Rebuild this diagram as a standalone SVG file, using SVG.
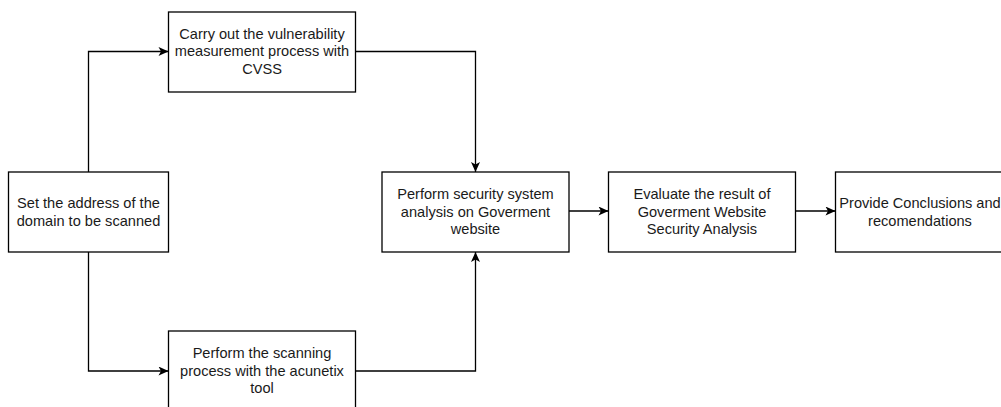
<svg xmlns="http://www.w3.org/2000/svg" width="1001" height="407" viewBox="0 0 1001 407">
<style>
.box{fill:#fff;stroke:#000;stroke-width:1.3}
.lbl{font-family:"Liberation Sans",Arial,sans-serif;font-size:14.6px;fill:#1a1a1a;text-anchor:middle}
.edge{fill:none;stroke:#000;stroke-width:1.3}
</style>
<defs>
<marker id="arr" viewBox="0 0 10 9" refX="10" refY="4.5" markerWidth="11" markerHeight="9" markerUnits="userSpaceOnUse" orient="auto">
<path d="M0,0 L10,4.5 L0,9 L2.5,4.5 Z" fill="#000"/>
</marker>
</defs>
<rect width="1001" height="407" fill="#fff"/>
<g id="connectors">
<path class="edge" d="M88.5,172 V51.5 H168.5" marker-end="url(#arr)"/>
<path class="edge" d="M88.5,252 V371 H168.5" marker-end="url(#arr)"/>
<path class="edge" d="M355.5,51.5 H475.5 V172" marker-end="url(#arr)"/>
<path class="edge" d="M355.5,371 H475.5 V252" marker-end="url(#arr)"/>
<path class="edge" d="M569,211 H608.5" marker-end="url(#arr)"/>
<path class="edge" d="M795.5,211 H835.5" marker-end="url(#arr)"/>
</g>
<g id="n1">
<rect class="box" x="8.5" y="172" width="160" height="80"/>
<text class="lbl" x="88.5" y="208">Set the address of the</text>
<text class="lbl" x="88.5" y="226">domain to be scanned</text>
</g>
<g id="n2">
<rect class="box" x="168.5" y="12" width="187" height="80"/>
<text class="lbl" x="262" y="38.5">Carry out the vulnerability</text>
<text class="lbl" x="262" y="56">measurement process with</text>
<text class="lbl" x="262" y="73.5">CVSS</text>
</g>
<g id="n3">
<rect class="box" x="168.5" y="331" width="187" height="80"/>
<text class="lbl" x="262" y="358">Perform the scanning</text>
<text class="lbl" x="262" y="375.5">process with the acunetix</text>
<text class="lbl" x="262" y="393">tool</text>
</g>
<g id="n4">
<rect class="box" x="382" y="172" width="187" height="80"/>
<text class="lbl" x="475.5" y="199">Perform security system</text>
<text class="lbl" x="475.5" y="216.5">analysis on Goverment</text>
<text class="lbl" x="475.5" y="234">website</text>
</g>
<g id="n5">
<rect class="box" x="608.5" y="172" width="187" height="80"/>
<text class="lbl" x="702" y="199">Evaluate the result of</text>
<text class="lbl" x="702" y="216.5">Goverment Website</text>
<text class="lbl" x="702" y="234">Security Analysis</text>
</g>
<g id="n6">
<rect class="box" x="835.5" y="172" width="187" height="80"/>
<text class="lbl" x="920" y="208">Provide Conclusions and</text>
<text class="lbl" x="920" y="226">recomendations</text>
</g>
</svg>
